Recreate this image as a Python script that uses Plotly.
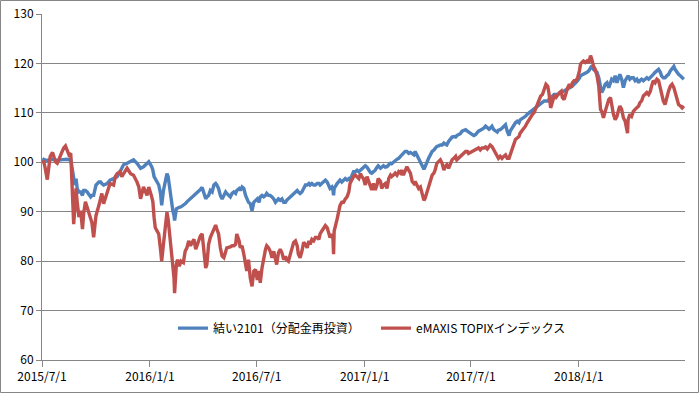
import plotly.graph_objects as go

# ---- data ----
dates = [
 "2015-07-01","2015-07-04","2015-07-06","2015-07-10","2015-07-12","2015-07-15","2015-07-19","2015-07-24","2015-07-27",
 "2015-08-01","2015-08-07","2015-08-10","2015-08-13","2015-08-16","2015-08-19","2015-08-21","2015-08-24","2015-08-26","2015-08-28","2015-08-30",
 "2015-09-02","2015-09-05","2015-09-08","2015-09-10","2015-09-13","2015-09-16","2015-09-22","2015-09-24","2015-09-27",
 "2015-10-01","2015-10-06","2015-10-09","2015-10-11","2015-10-14","2015-10-20","2015-10-25","2015-10-31",
 "2015-11-03","2015-11-06","2015-11-11","2015-11-14","2015-11-17","2015-11-23","2015-11-29",
 "2015-12-04","2015-12-10","2015-12-13","2015-12-16","2015-12-21","2015-12-27","2015-12-30",
 "2016-01-04","2016-01-06","2016-01-08","2016-01-10","2016-01-13","2016-01-16","2016-01-19","2016-01-21","2016-01-24","2016-01-26","2016-01-28","2016-01-30",
 "2016-02-01","2016-02-04","2016-02-06","2016-02-09","2016-02-11","2016-02-12","2016-02-15","2016-02-17","2016-02-20","2016-02-23","2016-02-27",
 "2016-03-01","2016-03-04","2016-03-07","2016-03-10","2016-03-13","2016-03-16","2016-03-19","2016-03-21","2016-03-24","2016-03-27","2016-03-30",
 "2016-04-02","2016-04-05","2016-04-07","2016-04-10","2016-04-13","2016-04-16","2016-04-19","2016-04-22","2016-04-24","2016-04-27","2016-04-30",
 "2016-05-03","2016-05-06","2016-05-09","2016-05-11","2016-05-17","2016-05-20","2016-05-23","2016-05-26","2016-05-28",
 "2016-06-01","2016-06-03","2016-06-06","2016-06-09","2016-06-12","2016-06-14","2016-06-17","2016-06-20","2016-06-23","2016-06-26","2016-06-29",
 "2016-07-02","2016-07-05","2016-07-07","2016-07-10","2016-07-13","2016-07-16","2016-07-18","2016-07-21","2016-07-24","2016-07-27","2016-07-30",
 "2016-08-02","2016-08-04","2016-08-07","2016-08-10","2016-08-13","2016-08-16","2016-08-19","2016-08-21","2016-08-24","2016-08-27","2016-08-30",
 "2016-09-02","2016-09-05","2016-09-08","2016-09-10","2016-09-13","2016-09-16","2016-09-19","2016-09-22","2016-09-25","2016-09-28","2016-09-30",
 "2016-10-03","2016-10-06","2016-10-09","2016-10-12","2016-10-15","2016-10-17","2016-10-20","2016-10-23","2016-10-26","2016-10-29",
 "2016-11-01","2016-11-03","2016-11-06","2016-11-08","2016-11-09","2016-11-10","2016-11-15","2016-11-17","2016-11-20","2016-11-23","2016-11-26","2016-11-29",
 "2016-12-02","2016-12-05","2016-12-07","2016-12-10","2016-12-13","2016-12-16","2016-12-19","2016-12-22","2016-12-25","2016-12-27","2016-12-30",
 "2017-01-02","2017-01-05","2017-01-08","2017-01-11","2017-01-13","2017-01-16","2017-01-19","2017-01-22","2017-01-24","2017-01-28","2017-01-30",
 "2017-02-02","2017-02-05","2017-02-08","2017-02-11","2017-02-14","2017-02-16","2017-02-19","2017-02-22","2017-02-25","2017-02-28",
 "2017-03-03","2017-03-05","2017-03-08","2017-03-11","2017-03-14","2017-03-17","2017-03-20","2017-03-23","2017-03-26","2017-03-28","2017-03-31",
 "2017-04-03","2017-04-06","2017-04-09","2017-04-12","2017-04-14","2017-04-17","2017-04-20","2017-04-23","2017-04-26","2017-04-29",
 "2017-05-01","2017-05-04","2017-05-07","2017-05-10","2017-05-13","2017-05-16","2017-05-18","2017-05-21","2017-05-24","2017-05-27","2017-05-30",
 "2017-06-02","2017-06-05","2017-06-07","2017-06-10","2017-06-13","2017-06-16","2017-06-19","2017-06-22","2017-06-25","2017-06-27","2017-06-30",
 "2017-07-03","2017-07-06","2017-07-09","2017-07-11","2017-07-14","2017-07-17","2017-07-20","2017-07-23","2017-07-26","2017-07-29",
 "2017-08-01","2017-08-03","2017-08-06","2017-08-09","2017-08-12","2017-08-15","2017-08-17","2017-08-20","2017-08-23","2017-08-26","2017-08-29",
 "2017-09-01","2017-09-04","2017-09-06","2017-09-09","2017-09-12","2017-09-15","2017-09-18","2017-09-21","2017-09-23","2017-09-30",
 "2017-10-02","2017-10-05","2017-10-08","2017-10-11","2017-10-14","2017-10-17","2017-10-19","2017-10-22","2017-10-25","2017-10-28","2017-10-31",
 "2017-11-03","2017-11-06","2017-11-09","2017-11-11","2017-11-14","2017-11-17","2017-11-20","2017-11-23","2017-11-26","2017-11-29",
 "2017-12-02","2017-12-04","2017-12-07","2017-12-10","2017-12-13","2017-12-16","2017-12-19","2017-12-21","2017-12-24","2017-12-27","2017-12-30",
 "2018-01-02","2018-01-04","2018-01-07","2018-01-09","2018-01-12","2018-01-15","2018-01-18","2018-01-21","2018-01-23","2018-01-26","2018-01-29",
 "2018-02-01","2018-02-04","2018-02-07","2018-02-09","2018-02-12","2018-02-15","2018-02-18","2018-02-21","2018-02-24","2018-02-26",
 "2018-03-01","2018-03-04","2018-03-07","2018-03-10","2018-03-12","2018-03-15","2018-03-18","2018-03-21","2018-03-24","2018-03-25","2018-03-26","2018-03-29",
 "2018-04-01","2018-04-04","2018-04-07","2018-04-10","2018-04-13","2018-04-15","2018-04-18","2018-04-21","2018-04-24","2018-04-27","2018-04-30",
 "2018-05-03","2018-05-05","2018-05-08","2018-05-11","2018-05-14","2018-05-17","2018-05-20","2018-05-22","2018-05-25","2018-05-28","2018-05-31",
 "2018-06-03","2018-06-06","2018-06-09","2018-06-12","2018-06-14","2018-06-17","2018-06-20","2018-06-23","2018-06-26","2018-06-29",
]

yui2101 = [
 100.0,100.6,100.5,100.3,100.5,100.6,100.6,100.5,100.3,
 100.5,100.6,100.5,100.6,100.5,100.6,99.1,96.4,95.4,96.7,94.7,
 94.0,94.0,93.3,94.3,94.3,94.0,93.0,93.3,93.3,
 95.4,96.0,96.0,95.7,95.4,95.7,96.4,96.7,
 96.9,97.1,98.1,98.8,99.5,99.8,100.1,
 100.5,99.8,99.3,98.8,99.1,99.8,100.1,
 99.1,98.4,97.1,96.7,96.0,95.4,93.7,91.3,94.3,95.7,96.4,97.7,
 97.1,94.3,92.6,90.2,89.2,88.2,90.6,90.8,90.9,91.0,91.3,
 91.6,92.0,92.3,92.6,93.0,93.3,93.5,93.7,94.0,94.5,94.9,
 93.7,92.6,93.0,93.3,94.3,94.0,95.4,95.7,95.4,94.7,93.3,
 92.6,93.3,94.0,93.7,93.0,93.7,94.0,93.7,94.3,
 94.7,94.3,95.0,94.7,93.3,92.6,91.9,91.6,90.2,91.9,92.3,
 92.6,91.9,93.0,93.3,93.0,93.3,93.7,93.3,93.3,93.0,92.6,
 91.9,92.3,92.6,92.3,92.6,91.9,91.9,92.3,92.6,93.0,93.3,
 93.7,94.0,94.3,94.0,93.7,94.0,94.7,95.4,95.4,95.7,95.4,
 95.7,95.4,95.4,95.7,95.7,95.4,95.7,96.0,96.4,96.0,
 95.4,94.7,95.0,94.3,93.3,94.7,95.7,96.0,96.4,96.0,96.4,96.7,
 96.4,96.7,96.4,97.4,98.1,98.1,98.4,98.1,98.4,98.8,99.1,
 99.3,99.0,98.3,97.9,97.8,98.1,98.4,99.0,99.3,98.8,99.1,
 99.3,99.0,99.1,99.5,99.8,99.7,100.1,100.3,100.6,100.8,
 101.2,101.5,101.8,102.2,102.2,101.8,102.0,101.8,101.5,102.2,101.5,
 100.5,99.8,99.1,98.6,99.1,100.1,100.8,101.5,102.2,102.5,
 102.9,103.2,103.3,103.5,103.5,103.9,103.7,103.5,104.2,104.6,105.1,
 105.2,105.1,105.4,105.6,105.8,106.3,106.5,106.6,106.3,106.1,105.8,
 105.6,105.4,105.6,105.9,106.3,106.5,106.7,106.9,107.3,106.9,
 106.7,106.9,107.3,106.6,106.3,106.1,106.5,106.6,106.9,107.3,107.6,
 106.3,105.4,106.3,106.9,107.3,108.0,108.3,108.0,108.6,109.0,
 109.3,109.7,110.0,110.3,110.5,110.7,111.0,111.4,111.7,112.0,112.2,
 112.4,112.4,112.4,112.7,113.1,113.4,113.7,113.7,113.7,113.9,
 114.1,114.2,114.4,114.6,114.8,114.9,115.1,115.4,115.8,116.1,116.5,
 117.0,117.5,117.7,117.8,118.0,118.2,118.5,119.2,119.5,118.8,118.5,
 118.2,117.1,115.4,114.1,114.8,115.8,116.1,115.1,116.1,116.8,
 116.5,117.5,116.1,117.1,117.8,116.8,115.1,116.5,117.1,117.3,117.5,116.8,
 117.1,117.1,116.5,116.8,116.1,116.5,116.8,116.5,116.8,117.1,116.8,
 117.1,117.5,117.8,118.2,118.5,118.8,118.2,117.5,117.1,117.1,117.5,
 117.8,118.5,119.0,119.4,118.8,118.2,117.8,117.5,117.1,116.8,
]

topix = [
 100.0,100.1,99.1,96.5,98.4,101.2,102.0,100.1,99.8,
 101.3,102.9,103.3,102.2,101.5,101.8,97.1,87.5,90.9,94.7,91.9,
 88.9,90.2,86.5,89.6,92.0,90.9,88.5,87.8,84.8,
 89.2,91.3,92.6,93.7,91.6,94.0,95.7,95.4,
 97.1,97.7,98.1,97.1,97.7,98.8,97.7,
 97.4,96.0,95.0,92.6,95.0,93.3,95.0,
 93.0,92.0,88.9,86.8,86.1,85.5,82.4,80.0,83.4,86.1,88.2,89.9,
 88.5,84.8,84.1,80.0,76.6,73.5,79.3,80.3,79.0,80.0,79.7,
 82.0,82.7,84.1,83.1,83.8,84.4,82.4,83.1,84.1,85.1,85.5,
 81.0,78.6,79.3,83.4,84.8,85.8,86.8,87.3,86.5,85.5,82.7,
 81.0,80.7,82.0,82.7,82.9,83.1,83.1,83.4,85.5,
 84.1,82.7,83.1,81.4,79.3,78.0,80.3,76.6,74.9,78.0,78.3,
 76.2,78.0,75.6,78.6,81.0,82.4,83.1,82.7,82.0,80.7,82.0,
 80.0,79.3,81.7,82.4,81.7,80.3,81.0,80.3,80.0,81.4,82.7,
 83.8,84.1,83.1,81.4,80.7,82.0,83.8,83.4,82.7,84.1,83.4,
 84.4,84.1,84.8,84.8,84.4,85.5,86.1,86.8,87.2,86.8,
 85.5,84.8,85.5,84.4,81.4,86.1,88.5,89.9,91.3,91.9,91.9,92.6,
 93.0,94.0,95.7,96.4,97.1,97.4,97.1,96.7,97.7,97.1,96.7,
 95.4,97.1,96.1,94.7,94.4,95.7,94.4,95.4,96.7,96.1,94.7,
 95.4,95.7,94.7,96.7,97.4,97.1,97.4,97.8,97.4,98.1,
 97.8,98.4,97.4,98.1,99.1,98.4,97.8,96.1,95.7,96.1,95.4,
 94.7,95.0,93.7,92.3,92.7,94.0,95.4,96.7,97.4,97.8,
 98.4,99.8,100.1,100.5,99.8,98.4,99.1,99.5,98.8,99.8,100.5,
 100.8,101.2,100.5,100.8,101.2,101.5,101.8,102.2,102.2,101.8,102.0,
 102.2,102.4,102.5,102.7,102.9,102.5,102.9,102.9,103.1,102.7,
 103.2,103.5,103.2,102.5,101.8,101.2,100.8,101.2,100.8,101.2,101.5,
 100.8,100.8,101.5,102.5,103.9,104.6,104.9,105.2,105.9,106.9,
 107.3,108.0,108.6,109.3,109.7,110.1,110.7,111.7,112.7,113.4,113.7,
 114.8,115.8,115.4,114.1,111.0,112.4,113.4,113.1,113.7,114.1,
 114.4,113.1,112.7,114.1,115.1,115.8,115.1,116.1,116.5,116.5,117.1,
 118.5,119.9,120.3,120.5,120.2,120.5,120.1,121.6,120.9,119.5,118.8,
 117.5,115.4,110.7,110.3,109.0,110.3,111.4,112.7,113.1,111.4,
 109.7,108.6,109.3,110.7,111.4,110.7,109.0,108.3,106.9,105.9,108.6,109.7,
 109.3,110.3,110.7,111.0,111.4,112.0,112.4,113.4,113.7,114.1,113.7,
 114.4,115.4,116.5,116.1,116.8,116.5,114.8,113.7,112.4,111.7,113.4,
 114.4,115.4,115.8,115.1,114.1,112.7,111.7,111.4,111.0,111.4,
]

series_names = ["結い2101（分配金再投資）", "eMAXIS TOPIXインデックス"]
series_colors = ["#4F81BD", "#C0504D"]

tick_dates = ["2015-07-01", "2016-01-01", "2016-07-01", "2017-01-01", "2017-07-01", "2018-01-01"]
tick_labels = ["2015/7/1", "2016/1/1", "2016/7/1", "2017/1/1", "2017/7/1", "2018/1/1"]
y_ticks = [60, 70, 80, 90, 100, 110, 120, 130]

FONT = "Noto Sans CJK JP"
GRID = "#868686"

W, H = 699, 393
L, R, T, B = 42, 14, 14, 33
pw, ph = W - L - R, H - T - B

fig = go.Figure()
legend_ids = ["legend", "legend2"]
for name, vals, col, lg in zip(series_names, [yui2101, topix], series_colors, legend_ids):
    fig.add_trace(go.Scatter(x=dates, y=vals, mode="lines", name=name, legend=lg,
                             line=dict(color=col, width=3.4), hoverinfo="skip"))

leg_common = dict(orientation="h", xanchor="left", y=0.092, yanchor="middle",
                  bgcolor="rgba(0,0,0,0)", font=dict(family=FONT, size=12, color="#000000"),
                  itemwidth=30)

fig.update_layout(
    width=W, height=H,
    margin=dict(l=L, r=R, t=T, b=B, pad=0, autoexpand=False),
    paper_bgcolor="white", plot_bgcolor="white",
    font=dict(family=FONT, size=12, color="#000000"),
    showlegend=True,
    legend=dict(x=(173 - L) / pw, **leg_common),
    legend2=dict(x=(376 - L) / pw, **leg_common),
    xaxis=dict(type="date", range=["2015-07-01", "2018-07-01"], automargin=False,
               tickmode="array", tickvals=tick_dates, ticktext=tick_labels,
               ticks="outside", ticklen=6, tickcolor=GRID, tickwidth=1,
               showline=True, linecolor=GRID, linewidth=1,
               showgrid=False, zeroline=False,
               tickfont=dict(family=FONT, size=12, color="#000000")),
    yaxis=dict(range=[60, 130], tickmode="array", tickvals=y_ticks, automargin=False,
               ticks="outside", ticklen=5, tickcolor=GRID, tickwidth=1,
               showline=True, linecolor=GRID, linewidth=1,
               showgrid=True, gridcolor=GRID, gridwidth=1, zeroline=False,
               tickfont=dict(family=FONT, size=12, color="#000000")),
    shapes=[dict(type="rect", xref="paper", yref="paper",
                 x0=(0.5 - L) / pw, x1=(W - 0.5 - L) / pw,
                 y0=-(B - 0.5) / ph, y1=1 + (T - 0.5) / ph,
                 line=dict(color=GRID, width=1), fillcolor="rgba(0,0,0,0)", layer="above")],
)

fig.write_html("out.html")
